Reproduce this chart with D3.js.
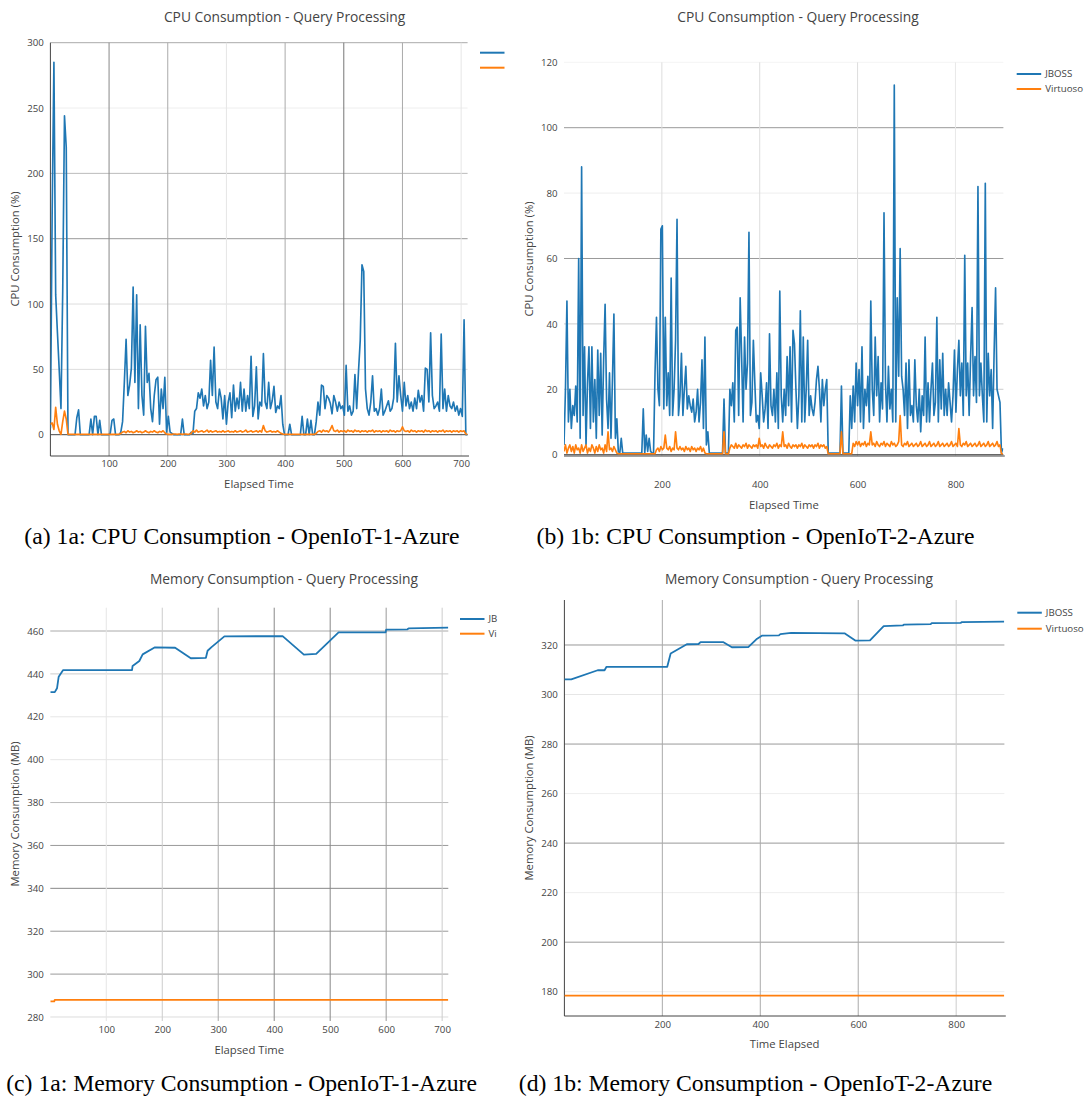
<!DOCTYPE html>
<html>
<head>
<meta charset="utf-8">
<script src="https://cdn.jsdelivr.net/npm/d3@7"></script>
<style>
  body { margin: 0; background: #fff; }
  svg { display: block; }
  text { font-family: "Open Sans", sans-serif; fill: #444; }
  .caption { font-family: "Liberation Serif", "Times New Roman", serif; fill: #000; }
</style>
</head>
<body>
<svg id="chart" width="1087" height="1097"></svg>
<script>
// ---- datos ----
var seriesNames = ["JBOSS", "Virtuoso"];
var seriesColors = ["#1f77b4", "#ff7f0e"];

// CPU: una muestra cada 3 unidades de tiempo
var cpuStep = 3;

// 1a CPU - JBOSS (t = 0, 3, 6 ...)
var cpuA_jboss = [
  5, 170, 285, 107, 78, 50, 20, 110, 244, 220,     // t0
  0, 0, 0, 0, 0, 13, 19, 0, 0, 0,                  // t30
  0, 0, 0, 12, 0, 14, 14, 0, 11, 0,                // t60
  0, 0, 0, 0, 1, 11, 12, 0, 0, 0,                  // t90
  2, 10, 40, 73, 30, 38, 51, 113, 40, 107,         // t120
  20, 84, 30, 15, 83, 40, 47, 20, 10, 30,          // t150
  42, 44, 8, 35, 20, 44, 2, 14, 2, 1,              // t180
  0, 0, 0, 0, 0, 12, 0, 0, 0, 0,                   // t210
  2, 1, 18, 20, 32, 28, 35, 22, 30, 20,            // t240
  25, 57, 30, 67, 25, 20, 35, 28, 12, 30,          // t270
  8, 25, 32, 13, 38, 18, 28, 20, 40, 18,           // t300
  35, 18, 30, 20, 60, 14, 22, 52, 12, 25,          // t330
  22, 62, 25, 20, 40, 20, 26, 37, 17, 22,          // t360
  20, 30, 8, 0, 0, 0, 8, 0, 0, 0,                  // t390
  0, 0, 0, 14, 0, 0, 12, 0, 11, 0,                 // t420
  0, 10, 25, 15, 38, 37, 20, 30, 28, 24,           // t450
  16, 30, 25, 18, 25, 20, 22, 15, 53, 18,          // t480
  22, 15, 18, 46, 20, 48, 72, 130, 125, 35,        // t510
  20, 15, 25, 45, 18, 20, 15, 20, 35, 15,          // t540
  18, 22, 26, 18, 20, 28, 70, 25, 45, 30,          // t570
  18, 40, 22, 30, 20, 25, 18, 28, 20, 34,          // t600
  25, 30, 18, 51, 50, 25, 78, 30, 20, 22,          // t630
  25, 18, 77, 20, 35, 18, 30, 22, 20, 25,          // t660
  18, 22, 15, 20, 14, 88, 0, 0                     // t690
];

// 1a CPU - Virtuoso
var cpuA_virt = [
  8, 9, 4, 21, 8, 3, 0.3, 10, 18, 12,
  0.3, 0.3, 0.3, 0.3, 0.3, 0.3, 0.3, 0.3, 0.3, 0.3,
  0.3, 0.3, 0.3, 0.3, 0.3, 0.3, 0.3, 0.3, 0.3, 0.3,
  0.3, 0.3, 0.3, 0.3, 0.3, 0.3, 0.3, 0.3, 0.3, 0.3,
  1, 2, 2.5, 1.5, 3, 2, 2.5, 1.5, 2, 3,
  2, 2.5, 1.5, 2, 3, 2, 1.5, 2.5, 2, 3,
  2, 1.5, 2.5, 2, 3, 1.5, 0.5, 0.3, 0.3, 0.3,
  0.5, 0.5, 0.3, 0.5, 0.5, 0.3, 0.5, 0.5, 0.3, 0.5,
  1, 3, 2, 3.5, 2, 2.5, 3, 2, 2.5, 3.5,
  2, 3, 2, 2.5, 3, 2, 2.5, 2, 3, 2,
  2.5, 3, 2, 2.5, 2, 3, 2, 2.5, 3, 2,
  2.5, 3.5, 2, 2.5, 3, 2, 2.5, 3, 2, 3,
  2, 7, 3, 2, 2.5, 3, 2, 2.5, 2, 3,
  2, 1, 0.5, 0.3, 0.3, 0.3, 0.3, 0.3, 0.3, 0.3,
  0.3, 0.3, 0.3, 0.3, 0.3, 0.3, 0.3, 0.3, 0.3, 0.3,
  0.3, 1, 2.5, 3, 2, 3.5, 2.5, 3, 2, 4,
  7, 3, 2.5, 3.5, 2, 3, 2.5, 3, 2, 3.5,
  2.5, 3, 2, 3.5, 2.5, 3, 2, 3, 2.5, 3,
  2, 3, 2.5, 3.5, 2, 3, 2.5, 3, 2, 3,
  2.5, 3, 2, 3.5, 2.5, 3, 2, 3, 2.5, 3,
  6, 3, 2.5, 3, 2, 3.5, 2.5, 3, 2, 3,
  2.5, 3, 2, 3.5, 2.5, 3, 2, 3, 2.5, 3,
  2, 3, 2.5, 3.5, 2, 3, 2.5, 3, 2, 3,
  2.5, 3, 2, 3, 2.5, 3, 0.5, 0.3
];

// 1b CPU - JBOSS
var cpuB_jboss = [
  3, 20, 47, 10, 20, 8, 15, 12, 21, 10,            // t0
  60, 5, 88, 12, 33, 3, 22, 33, 8, 33,             // t30
  10, 23, 5, 32, 12, 31, 6, 29, 46, 17,            // t60
  8, 25, 5, 23, 43, 5, 11, 1, 0.5, 5,              // t90
  0.5, 0.5, 0.5, 0.5, 0.5, 0.5, 0.5, 0.5, 0.5, 0.5,// t120
  0.5, 0.5, 0.5, 0.5, 14, 0.5, 6, 1, 5, 1,         // t150
  0.5, 0.5, 25, 42, 20, 15, 69, 70, 14, 42,        // t180
  15, 25, 12, 54, 12, 20, 35, 72, 12, 18,          // t210
  31, 12, 20, 27, 14, 18, 15, 13, 17, 10,          // t240
  13, 20, 10, 16, 29, 8, 36, 3, 7, 0.5,            // t270
  0.5, 0.5, 0.5, 0.5, 0.5, 0.5, 0.5, 0.5, 0.5, 17, // t300
  0.5, 0.5, 0.5, 20, 15, 22, 10, 38, 39, 12,       // t330
  48, 30, 10, 36, 20, 28, 68, 12, 16, 35,          // t360
  22, 10, 12, 8, 25, 18, 10, 14, 22, 8,            // t390
  37, 15, 12, 20, 10, 25, 8, 50, 18, 10,           // t420
  20, 12, 30, 15, 33, 10, 38, 34, 20, 8,           // t450
  18, 44, 10, 36, 10, 20, 35, 12, 18, 14,          // t480
  12, 16, 23, 27, 20, 10, 23, 15, 20, 23,          // t510
  0.5, 0.5, 0.5, 0.5, 0.5, 0.5, 0.5, 0.5, 0.5, 21, // t540
  0.5, 0.5, 0.5, 0.5, 0.5, 18, 8, 21, 10, 28,      // t570
  15, 26, 10, 33, 8, 20, 15, 24, 10, 47,           // t600
  20, 12, 36, 18, 30, 10, 22, 14, 74, 22,          // t630
  10, 27, 14, 20, 10, 113, 10, 48, 24, 63,         // t660
  24, 20, 12, 28, 8, 29, 12, 15, 10, 29,           // t690
  15, 10, 20, 7, 18, 12, 36, 10, 22, 10,           // t720
  20, 28, 12, 16, 42, 10, 29, 14, 31, 12,          // t750
  20, 12, 22, 16, 10, 18, 32, 13, 26, 35,          // t780
  18, 28, 12, 61, 18, 28, 12, 30, 45, 18,          // t810
  30, 16, 82, 18, 28, 18, 10, 83, 10, 31,          // t840
  18, 26, 8, 31, 51, 20, 18, 16, 0.5, 2            // t870
];

// 1b CPU - Virtuoso
var cpuB_virt = [
  1, 3, 0.5, 2, 3, 1, 2.5, 0.5, 3, 1.5,
  2, 0.5, 3, 1, 2, 3, 0.5, 2, 1, 3,
  2, 0.5, 2.5, 1, 3, 1.5, 2, 0.5, 3, 1,
  7, 1.5, 2, 1, 2.5, 1.5, 0.5, 0.3, 0.3, 0.3,
  0.3, 0.3, 0.3, 0.3, 0.3, 0.3, 0.3, 0.3, 0.3, 0.3,
  0.3, 0.3, 0.3, 0.3, 0.3, 0.3, 0.3, 0.3, 0.3, 0.3,
  0.3, 0.3, 0.3, 1.5, 2, 1, 2.5, 1.5, 2, 6,
  2, 1.5, 2.5, 1, 2, 1.5, 7, 2, 1.5, 2.5,
  1.5, 2, 1, 2.5, 1.5, 2, 1, 2.5, 1.5, 2,
  1, 2, 1.5, 2.5, 1, 2, 0.5, 0.3, 0.3, 0.3,
  0.3, 0.3, 0.3, 0.3, 0.3, 0.3, 0.3, 0.3, 0.3, 7,
  0.3, 0.3, 0.3, 2, 3, 2.5, 2, 3.5, 2, 3,
  2.5, 2, 3, 2.5, 3.5, 2, 3, 2.5, 2, 3,
  2.5, 3, 2, 5, 2.5, 3, 2, 3.5, 2.5, 2,
  3, 2.5, 2, 3, 2.5, 3.5, 2, 3, 2.5, 7,
  2.5, 3, 2, 3.5, 2.5, 2, 3, 2.5, 3, 2,
  3, 2.5, 3.5, 2, 3, 2.5, 2, 3, 2.5, 3,
  2, 3, 2.5, 3.5, 2, 3, 2.5, 3, 2, 2.5,
  0.3, 0.3, 0.3, 0.3, 0.3, 0.3, 0.3, 0.3, 0.3, 7,
  0.3, 0.3, 0.3, 0.3, 0.3, 0.3, 0.3, 3.5, 2.5, 4,
  3, 4, 2.5, 3.5, 3, 4, 2.5, 3.5, 3, 7,
  3, 3.5, 2.5, 4, 3, 2.5, 3.5, 3, 4, 2.5,
  3.5, 3, 2.5, 4, 3, 3.5, 2.5, 3, 4, 12,
  3, 2.5, 3.5, 3, 4, 2.5, 3, 3.5, 2.5, 3,
  3.5, 2.5, 3, 4, 2.5, 3, 3.5, 2.5, 3, 4,
  2.5, 3, 3.5, 2.5, 3, 4, 2.5, 3, 3.5, 2.5,
  3, 3.5, 2.5, 3, 4, 2.5, 3, 3.5, 2.5, 8,
  3, 2.5, 3.5, 3, 4, 2.5, 3, 3.5, 2.5, 3,
  3.5, 2.5, 3, 4, 2.5, 3, 3.5, 2.5, 3, 4,
  2.5, 3, 3.5, 2.5, 3, 4, 2.5, 3, 0.3, 0.3
];

// Memoria: pares tiempo / valor (MB)
var memA_jboss_t = [0, 8, 12, 15, 23, 26, 146, 147, 159, 165, 187, 223, 251, 278, 281, 288, 311, 415, 453, 475, 515, 599, 600, 638, 640, 711];
var memA_jboss_v = [431.5, 431.5, 433.3, 438.7, 441.8, 441.8, 441.8, 443.7, 446, 449.1, 452.4, 452.2, 447.3, 447.5, 450.8, 452.5, 457.5, 457.6, 449, 449.3, 459.4, 459.4, 460.6, 460.8, 461.2, 461.6];
var memA_virt_t = [0, 7, 8, 711];
var memA_virt_v = [287.3, 287.3, 288, 288];

var memB_jboss_t = [0, 14, 68, 82, 86, 210, 217, 250, 274, 278, 324, 342, 376, 392, 404, 438, 441, 463, 572, 594, 624, 652, 691, 693, 748, 750, 809, 811, 898];
var memB_jboss_v = [306.1, 306.1, 309.8, 309.8, 311.2, 311.2, 316.6, 320.3, 320.4, 321.2, 321.2, 319.1, 319.2, 322.3, 323.8, 323.9, 324.4, 324.9, 324.7, 321.8, 321.9, 327.6, 327.9, 328.2, 328.4, 328.8, 328.9, 329.2, 329.4];
var memB_virt_t = [0, 898];
var memB_virt_v = [178.4, 178.4];

// ticks
var ticksA_x = [100, 200, 300, 400, 500, 600, 700];
var ticksA_y = [0, 50, 100, 150, 200, 250, 300];
var ticksB_x = [200, 400, 600, 800];
var ticksB_y = [0, 20, 40, 60, 80, 100, 120];
var ticksC_x = [100, 200, 300, 400, 500, 600, 700];
var ticksC_y = [280, 300, 320, 340, 360, 380, 400, 420, 440, 460];
var ticksD_x = [200, 400, 600, 800];
var ticksD_y = [180, 200, 220, 240, 260, 280, 300, 320];

var titles = ["CPU Consumption - Query Processing", "CPU Consumption - Query Processing",
              "Memory Consumption - Query Processing", "Memory Consumption - Query Processing"];
var xTitles = ["Elapsed Time", "Elapsed Time", "Elapsed Time", "Time Elapsed"];
var yTitles = ["CPU Consumption (%)", "CPU Consumption (%)", "Memory Consumption (MB)", "Memory Consumption (MB)"];
var captions = ["(a) 1a: CPU Consumption - OpenIoT-1-Azure", "(b) 1b: CPU Consumption - OpenIoT-2-Azure",
                "(c) 1a: Memory Consumption - OpenIoT-1-Azure", "(d) 1b: Memory Consumption - OpenIoT-2-Azure"];

// ---- convierte arrays a puntos ----
function fromSteps(values) {
  return values.map(function (v, i) { return { t: i * cpuStep, v: v }; });
}
function fromPairs(ts, vs) {
  return ts.map(function (t, i) { return { t: t, v: vs[i] }; });
}

// ---- configuración de cada panel (posición y estilo) ----
// legendChars: cuántas letras de la leyenda se ven (el resto queda cortado en la figura)
var panels = [
  {
    left: 50.4, right: 467.6, top: 42.7, bottom: 456,
    xDomain: [0, 711], yDomain: [-16.3, 300],
    xTicks: ticksA_x, yTicks: ticksA_y,
    series: [fromSteps(cpuA_jboss), fromSteps(cpuA_virt)], width: 1.65,
    yGrid: { 300: "#aaa", 250: "#eee", 200: "#bbb", 150: "#999", 100: "#ddd", 50: "#ddd" },
    xGrid: { 100: "#888", 200: "#aaa", 300: "#e6e6e6", 400: "#aaa", 500: "#777", 600: "#aaa", 700: "#e6e6e6" },
    zeroLine: true, axisLeft: true, axisBottom: true,
    title: [284.6, 16.7], xLabelY: 464, xTitle: [259, 483.7], yTitle: [15.5, 249],
    caption: [242, 544], legend: [480, 52.7, 15], legendChars: 0
  },
  {
    left: 564, right: 1003.4, top: 62.3, bottom: 456,
    xDomain: [0, 898], yDomain: [-0.4, 120],
    xTicks: ticksB_x, yTicks: ticksB_y,
    series: [fromSteps(cpuB_jboss), fromSteps(cpuB_virt)], width: 1.65,
    yGrid: { 120: "#f4f4f4", 100: "#999", 80: "#eee", 60: "#999", 40: "#ccc", 20: "#ccc" },
    xGrid: { 200: "#ddd", 400: "#ddd", 600: "#ddd", 800: "#e8e8e8" },
    zeroLine: true, axisLeft: false, axisBottom: true,
    title: [798, 16.7], xLabelY: 484.3, xTitle: [783.9, 505], yTitle: [529.5, 259],
    caption: [755.5, 544], legend: [1016.7, 74, 15], legendChars: 99
  },
  {
    left: 50.3, right: 448.3, top: 607.7, bottom: 1021,
    xDomain: [0, 711], yDomain: [278.13, 470.87],
    xTicks: ticksC_x, yTicks: ticksC_y,
    series: [fromPairs(memA_jboss_t, memA_jboss_v), fromPairs(memA_virt_t, memA_virt_v)], width: 1.8,
    yGrid: { 460: "#aaa", 440: "#ccc", 420: "#e6e6e6", 400: "#e6e6e6", 380: "#bbb", 360: "#999", 340: "#888", 320: "#999", 300: "#999", 280: "#ddd" },
    xGrid: { 100: "#e6e6e6", 200: "#ccc", 300: "#aaa", 400: "#888", 500: "#888", 600: "#999", 700: "#ccc" },
    zeroLine: false, axisLeft: false, axisBottom: false,
    title: [284, 579.3], xLabelY: 1029.3, xTitle: [249.3, 1050], yTitle: [15, 814],
    caption: [241.6, 1090.7], legend: [460, 619, 14.7], legendChars: 2
  },
  {
    left: 564.4, right: 1004.4, top: 600, bottom: 1016,
    xDomain: [0, 898.5], yDomain: [170.19, 338.17],
    xTicks: ticksD_x, yTicks: ticksD_y,
    series: [fromPairs(memB_jboss_t, memB_jboss_v), fromPairs(memB_virt_t, memB_virt_v)], width: 1.8,
    yGrid: { 320: "#999", 300: "#e6e6e6", 280: "#999", 260: "#eee", 240: "#999", 220: "#eee", 200: "#999", 180: "#eee" },
    xGrid: { 200: "#aaa", 400: "#aaa", 600: "#aaa", 800: "#ccc" },
    zeroLine: false, axisLeft: true, axisBottom: true,
    title: [799, 579.3], xLabelY: 1025, xTitle: [784.6, 1044], yTitle: [529.5, 808],
    caption: [755.5, 1090.7], legend: [1017.3, 612.7, 16], legendChars: 99
  }
];

var svg = d3.select("#chart");
var defs = svg.append("defs");

panels.forEach(function (p, k) {
  var g = svg.append("g");
  var x = d3.scaleLinear().domain(p.xDomain).range([p.left, p.right]);
  var y = d3.scaleLinear().domain(p.yDomain).range([p.bottom, p.top]);

  // líneas de la rejilla
  g.selectAll(".hgrid").data(p.yTicks.filter(function (d) { return p.yGrid[d]; }))
    .enter().append("line")
    .attr("x1", p.left).attr("x2", p.right)
    .attr("y1", function (d) { return y(d); }).attr("y2", function (d) { return y(d); })
    .attr("stroke", function (d) { return p.yGrid[d]; }).attr("stroke-width", 1);

  g.selectAll(".vgrid").data(p.xTicks)
    .enter().append("line")
    .attr("x1", function (d) { return x(d); }).attr("x2", function (d) { return x(d); })
    .attr("y1", p.top).attr("y2", p.bottom)
    .attr("stroke", function (d) { return p.xGrid[d] || "#eee"; }).attr("stroke-width", 1);

  if (p.zeroLine) {
    g.append("line").attr("x1", p.left).attr("x2", p.right)
      .attr("y1", y(0)).attr("y2", y(0))
      .attr("stroke", "#444").attr("stroke-width", 1);
  }
  if (p.axisLeft) {
    g.append("line").attr("x1", p.left).attr("x2", p.left)
      .attr("y1", p.top).attr("y2", p.bottom)
      .attr("stroke", "#444").attr("stroke-width", 1);
  }
  if (p.axisBottom) {
    g.append("line").attr("x1", p.left).attr("x2", p.right + 1.4)
      .attr("y1", p.bottom).attr("y2", p.bottom)
      .attr("stroke", "#444").attr("stroke-width", 1);
  }

  // etiquetas de los ejes
  var yAxisG = g.append("g").attr("transform", "translate(" + p.left + ",0)")
    .call(d3.axisLeft(y).tickValues(p.yTicks).tickSize(0).tickPadding(6.5));
  var xAxisG = g.append("g").attr("transform", "translate(0," + p.xLabelY + ")")
    .call(d3.axisBottom(x).tickValues(p.xTicks).tickSize(0).tickPadding(0));
  [yAxisG, xAxisG].forEach(function (a) {
    a.attr("font-family", null).attr("font-size", null);
    a.select(".domain").remove();
    a.selectAll("text").attr("fill", "#444").style("font-size", "9.7px");
  });
  xAxisG.selectAll("text").attr("dy", "0.35em");

  // series
  var clipId = "clip" + k;
  defs.append("clipPath").attr("id", clipId).append("rect")
    .attr("x", p.left).attr("y", p.top - 2)
    .attr("width", p.right - p.left).attr("height", p.bottom - p.top + 2);

  var line = d3.line().x(function (d) { return x(d.t); }).y(function (d) { return y(d.v); });
  g.append("g").attr("clip-path", "url(#" + clipId + ")")
    .selectAll("path").data(p.series).enter().append("path")
    .attr("d", line)
    .attr("fill", "none")
    .attr("stroke", function (d, i) { return seriesColors[i]; })
    .attr("stroke-width", p.width)
    .attr("stroke-linejoin", "round");

  // leyenda
  var leg = g.append("g");
  seriesNames.forEach(function (name, i) {
    var ly = p.legend[1] + i * p.legend[2];
    leg.append("line").attr("x1", p.legend[0]).attr("x2", p.legend[0] + 24.5)
      .attr("y1", ly).attr("y2", ly)
      .attr("stroke", seriesColors[i]).attr("stroke-width", 2);
    var shown = name.slice(0, p.legendChars);
    if (shown.length) {
      leg.append("text").attr("x", p.legend[0] + 28.5).attr("y", ly).attr("dy", "0.35em")
        .style("font-size", "9.7px").text(shown);
    }
  });

  // títulos
  g.append("text").attr("x", p.title[0]).attr("y", p.title[1]).attr("dy", "0.35em")
    .attr("text-anchor", "middle").style("font-size", "13.8px").text(titles[k]);
  g.append("text").attr("x", p.xTitle[0]).attr("y", p.xTitle[1]).attr("dy", "0.35em")
    .attr("text-anchor", "middle").style("font-size", "11.3px").text(xTitles[k]);
  g.append("text")
    .attr("transform", "translate(" + p.yTitle[0] + "," + p.yTitle[1] + ") rotate(-90)")
    .attr("dy", "0.35em").attr("text-anchor", "middle").style("font-size", "11.3px")
    .text(yTitles[k]);

  // pie de figura
  g.append("text").attr("class", "caption")
    .attr("x", p.caption[0]).attr("y", p.caption[1])
    .attr("text-anchor", "middle").style("font-size", "23.7px")
    .text(captions[k]);
});
</script>
</body>
</html>
